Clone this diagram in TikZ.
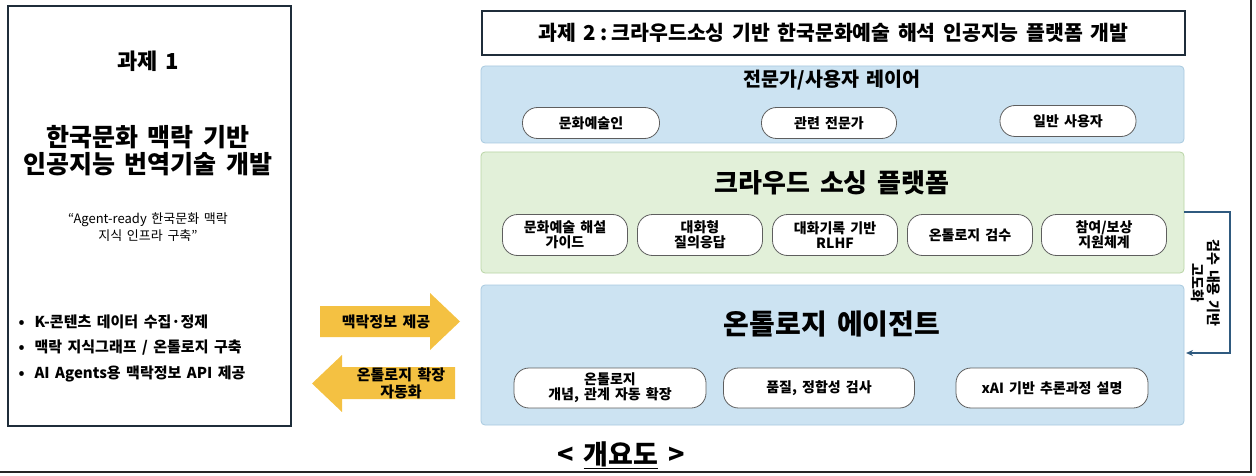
\documentclass[tikz,border=0pt]{standalone}
\usepackage{fontspec}
\setmainfont{Noto Sans CJK KR}[WordSpace={1.6,0,0}]
\usetikzlibrary{arrows.meta}

\definecolor{framecol}{HTML}{1F2D3A}
\definecolor{layerblue}{HTML}{CCE3F2}
\definecolor{layerblueline}{HTML}{A8C9DF}
\definecolor{layergreen}{HTML}{E2F0D9}
\definecolor{layergreenline}{HTML}{B8D4A4}
\definecolor{pillline}{HTML}{5E5E5E}
\definecolor{arrowgold}{HTML}{F4C142}
\definecolor{feedback}{HTML}{2F5A7F}

\begin{document}
\begin{tikzpicture}[x=1pt,y=-1pt,
    taskbox/.style={draw=framecol,line width=1.8pt,fill=white},
    layer/.style={rounded corners=4pt,line width=0.8pt},
    pill/.style={draw=pillline,fill=white,line width=0.8pt,rounded corners=15pt,
        align=center,font=\fontsize{14}{15}\selectfont\bfseries,inner sep=0pt},
    title/.style={font=\fontsize{#1}{#1}\selectfont\bfseries,align=center},
    title/.default=18,
    bullet/.style={font=\fontsize{15}{17}\selectfont\bfseries,anchor=west}]
    \useasboundingbox (0,0) rectangle (1256,476);

    \draw[line width=1.2pt,black!85] (1251,0) -- (1251,472) -- (0,472);

    \node[taskbox,minimum width=283,minimum height=420,anchor=north west] (task1) at (7,5) {};
    \node[title=22] (t1head) at (148,61) {과제 1};
    \node[title=25] (t1name) at (148,151) {한국문화 맥락 기반\\[2pt]인공지능 번역기술 개발};
    \node[font=\fontsize{13}{17}\selectfont,align=center] (t1quote) at (148,227) {“Agent-ready 한국문화 맥락\\지식 인프라 구축”};
    \node[bullet] (b1) at (15,322) {•\hspace{10pt}K-콘텐츠 데이터 수집·정제};
    \node[bullet] (b2) at (15,348) {•\hspace{10pt}맥락 지식그래프 / 온톨로지 구축};
    \node[bullet] (b3) at (15,374) {•\hspace{10pt}AI Agents용 맥락정보 API 제공};

    \fill[arrowgold] (320,306) -- (430,306) -- (430,293) -- (460,321.5) -- (430,350)
        -- (430,337) -- (320,337) -- cycle;
    \node[title=15] (arrR) at (386,321.5) {맥락정보 제공};
    \fill[arrowgold] (455,367) -- (342,367) -- (342,355) -- (312,383.5) -- (342,412)
        -- (342,399) -- (455,399) -- cycle;
    \node[align=center,font=\fontsize{15}{17}\selectfont\bfseries] (arrL) at (401,383) {온톨로지 확장\\자동화};

    \node[taskbox,minimum width=703,minimum height=44,anchor=north west] (task2) at (481,10) {};
    \node[title=20.5] (t2head) at (task2.center) {과제 2\hspace{4pt}:\hspace{4pt}크라우드소싱 기반 한국문화예술 해석 인공지능 플랫폼 개발};

    \draw[layer,fill=layerblue,draw=layerblueline] (481,66) rectangle (1184,143);
    \node[title=19.5] (userhead) at (832,80) {전문가/사용자 레이어};
    \node[pill,minimum width=137,minimum height=31] (u1) at (591,123) {문화예술인};
    \node[pill,minimum width=135,minimum height=31] (u2) at (829,123) {관련 전문가};
    \node[pill,minimum width=136,minimum height=31] (u3) at (1068,121) {일반 사용자};

    \draw[layer,fill=layergreen,draw=layergreenline] (481,152) rectangle (1184,273);
    \coordinate (green) at (1184,212);
    \node[title=26] (crowdhead) at (832,183) {크라우드 소싱 플랫폼};
    \node[pill,minimum width=125,minimum height=41] (c1) at (565,235) {문화예술 해설\\가이드};
    \node[pill,minimum width=125,minimum height=41] (c2) at (700,235) {대화형\\질의응답};
    \node[pill,minimum width=125,minimum height=41] (c3) at (835,235) {대화기록 기반\\RLHF};
    \node[pill,minimum width=125,minimum height=41] (c4) at (970,235) {온톨로지 검수};
    \node[pill,minimum width=125,minimum height=41] (c5) at (1104,235) {참여/보상\\지원체계};

    \draw[layer,fill=layerblue,draw=layerblueline] (481,285) rectangle (1184,425);
    \coordinate (agent) at (1186,353);
    \node[title=28] (agenthead) at (832,324) {온톨로지 에이전트};
    \node[pill,minimum width=192,minimum height=40] (a1) at (610,388) {온톨로지\\개념, 관계 자동 확장};
    \node[pill,minimum width=191,minimum height=40] (a2) at (819,388) {품질, 정합성 검사};
    \node[pill,minimum width=192,minimum height=40] (a3) at (1052,388) {xAI 기반 추론과정 설명};

    \draw[feedback,line width=1.4pt,-{Stealth[length=7pt,width=6pt]}] (green) -- (1230,212) |- (agent);
    \node[rotate=-90,font=\fontsize{14}{16}\selectfont\bfseries,align=center] (fbtext) at (1206,283) {검수 내용 기반\\고도화};

    \node[title=27] (overview) at (621,455) {<\hspace{10pt}\underline{개요도}\hspace{10pt}>};
\end{tikzpicture}
\end{document}
